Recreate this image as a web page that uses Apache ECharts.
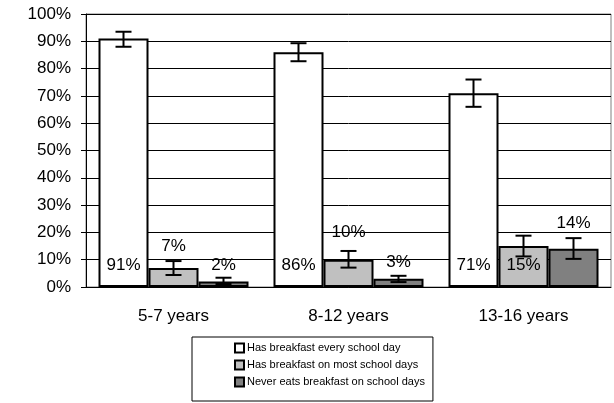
<!DOCTYPE html>
<html>
<head>
<meta charset="utf-8">
<script src="https://cdn.jsdelivr.net/npm/echarts@6/dist/echarts.min.js"></script>
<style>
html,body{margin:0;padding:0;background:#fff;}
#chart{width:614px;height:403px;}
</style>
</head>
<body>
<div id="chart"></div>
<script>
// ---- data ----
var categories = ['5-7 years', '8-12 years', '13-16 years'];
var seriesNames = ['Has breakfast every school day', 'Has breakfast on most school days', 'Never eats breakfast on school days'];
var everyDay = [91, 86, 71];
var mostDays = [7, 10, 15];
var never = [2, 3, 14];
var everyDayHigh = [93.5, 89.3, 76];
var everyDayLow = [88, 82.7, 66];
var mostDaysHigh = [9.5, 13.2, 18.8];
var mostDaysLow = [4.4, 7.1, 11.2];
var neverHigh = [3.4, 4.1, 17.9];
var neverLow = [1.1, 1.8, 10.3];
var yTicks = [0, 10, 20, 30, 40, 50, 60, 70, 80, 90, 100];

// ---- style / layout ----
var colors = ['#ffffff', '#c0c0c0', '#808080'];
var labelAt = [[8, 7.8, 7.8], [15, 19.9, 7.8], [8, 9, 23.3]]; // label anchor heights (layout)
var BAR_W = 50;
var FONT = 'Liberation Sans, Arial, sans-serif';

var values = [everyDay, mostDays, never];
var highs = [everyDayHigh, mostDaysHigh, neverHigh];
var lows = [everyDayLow, mostDaysLow, neverLow];

var chart = echarts.init(document.getElementById('chart'));
var series = [];
values.forEach(function (vals, si) {
  series.push({
    name: seriesNames[si],
    type: 'bar',
    data: vals,
    barWidth: BAR_W,
    barGap: '0%',
    itemStyle: { color: colors[si], borderColor: '#000', borderWidth: 2 },
    z: 2
  });
});
values.forEach(function (vals, si) {
  series.push({
    type: 'custom',
    silent: true,
    z: 5,
    data: vals.map(function (v, ci) { return [ci, v, lows[si][ci], highs[si][ci], labelAt[si][ci]]; }),
    encode: { x: 0, y: [1, 2, 3] },
    renderItem: function (params, api) {
      var ci = api.value(0);
      var off = (si - 1) * BAR_W;
      var pHi = api.coord([ci, api.value(3)]);
      var pLo = api.coord([ci, api.value(2)]);
      var pLab = api.coord([ci, api.value(4)]);
      var x = pHi[0] + off;
      var cap = 8;
      var st = { stroke: '#000', lineWidth: 2 };
      return {
        type: 'group',
        children: [
          { type: 'line', shape: { x1: x, y1: pHi[1], x2: x, y2: pLo[1] }, style: st },
          { type: 'line', shape: { x1: x - cap, y1: pHi[1], x2: x + cap, y2: pHi[1] }, style: st },
          { type: 'line', shape: { x1: x - cap, y1: pLo[1], x2: x + cap, y2: pLo[1] }, style: st },
          { type: 'text', style: { x: x, y: pLab[1], text: api.value(1) + '%', fill: '#000', font: '17px ' + FONT, textAlign: 'center', textVerticalAlign: 'middle' } }
        ]
      };
    }
  });
});

chart.setOption({
  animation: false,
  backgroundColor: '#fff',
  grid: { left: 86, right: 3, top: 14, bottom: 116, show: true, borderColor: '#808080', borderWidth: 1, backgroundColor: 'transparent' },
  legend: {
    data: seriesNames,
    orient: 'vertical',
    left: 192,
    top: 337,
    width: 255,
    padding: [5, 8, 13, 42],
    itemGap: 5,
    itemWidth: 9,
    itemHeight: 9,
    icon: 'rect',
    backgroundColor: '#fff',
    borderColor: '#000',
    borderWidth: 1,
    itemStyle: { borderColor: '#000', borderWidth: 2 },
    textStyle: { fontFamily: FONT, fontSize: 11, color: '#000', padding: [0, 0, 0, -2], lineHeight: 12 }
  },
  xAxis: {
    type: 'category',
    data: categories,
    axisLine: { lineStyle: { color: '#000', width: 1 } },
    axisTick: { show: false },
    axisLabel: { color: '#000', fontFamily: FONT, fontSize: 17, margin: 21 }
  },
  yAxis: {
    type: 'value',
    min: yTicks[0],
    max: yTicks[yTicks.length - 1],
    interval: yTicks[1] - yTicks[0],
    axisLine: { show: true, lineStyle: { color: '#000', width: 1 } },
    axisTick: { show: true, inside: false, length: 5, lineStyle: { color: '#000' } },
    axisLabel: { color: '#000', fontFamily: FONT, fontSize: 17, margin: 15, formatter: '{value}%' },
    splitLine: { show: true, lineStyle: { color: '#000', width: 1 } }
  },
  series: series
});
</script>
</body>
</html>
